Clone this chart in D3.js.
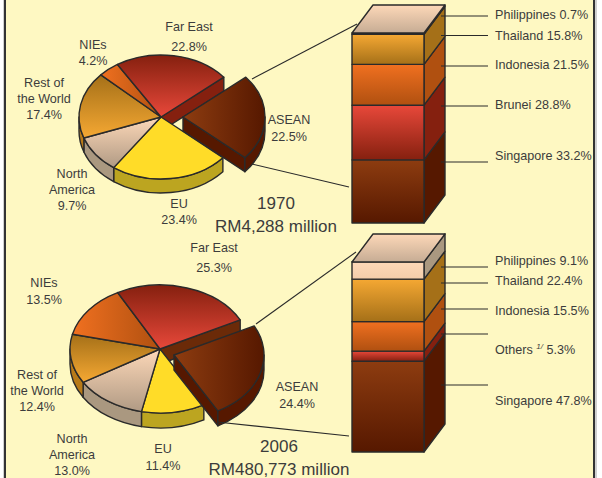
<!DOCTYPE html>
<html>
<head>
<meta charset="utf-8">
<script src="https://cdn.jsdelivr.net/npm/d3@7"></script>
<style>
    html, body {margin: 0; padding: 0; background: #fff;}
    svg {display: block;}
    text {font-family: "Liberation Sans", Arial, sans-serif; fill: #3c3c3c;}
</style>
</head>
<body>
<div id="chart"></div>
<script>
// pie slices, clockwise starting at the pulled out ASEAN slice
const regions1970 = ["ASEAN", "EU", "North America", "Rest of the World", "NIEs", "Far East"];
const shares1970 = [22.5, 23.4, 9.7, 17.4, 4.2, 22.8];
const regions2006 = ["ASEAN", "EU", "North America", "Rest of the World", "NIEs", "Far East"];
const shares2006 = [24.4, 11.4, 13.0, 12.4, 13.5, 25.3];

// ASEAN breakdown, bottom of the stack first
const countries1970 = ["Singapore", "Brunei", "Indonesia", "Thailand", "Philippines"];
const countryShares1970 = [33.2, 28.8, 21.5, 15.8, 0.7];
const countries2006 = ["Singapore", "Others", "Indonesia", "Thailand", "Philippines"];
const countryShares2006 = [47.8, 5.3, 15.5, 22.4, 9.1];

const titles1970 = ["1970", "RM4,288 million"];
const titles2006 = ["2006", "RM480,773 million"];

const width = 602, height = 478;

let svg = d3.select("#chart").append("svg")
    .attr("width", width)
    .attr("height", height);

let defs = svg.append("defs");

/**
 * add a linear gradient, vertical unless horizontal is set
 */
function addGradient(id, from, to, horizontal) {
    let g = defs.append("linearGradient")
        .attr("id", id)
        .attr("x1", 0).attr("y1", 0)
        .attr("x2", horizontal ? 1 : 0)
        .attr("y2", horizontal ? 0 : 1);
    g.append("stop").attr("offset", "0%").attr("stop-color", from);
    g.append("stop").attr("offset", "100%").attr("stop-color", to);
}

addGradient("gAsean", "#8d3c10", "#561800", true);
addGradient("gFarEast", "#85200f", "#e8483a");
addGradient("gNies", "#f07020", "#b05010", true);
addGradient("gRest", "#a57018", "#f5a833");
addGradient("gAmerica", "#fdd8b8", "#b09a84");
addGradient("gCap", "#fdd8b8", "#c6ac94");
addGradient("gPhil", "#fdd8b8", "#f3cdaa");
addGradient("gThai", "#f5a833", "#a57018");
addGradient("gIndo", "#f07020", "#b05010");
addGradient("gBrunei", "#e8483a", "#85200f");
addGradient("gSing", "#8d3c10", "#561800");

// fill of the top and side of each pie slice, same order as the shares
const pieTop = ["url(#gAsean)", "#ffdc28", "url(#gAmerica)", "url(#gRest)", "url(#gNies)", "url(#gFarEast)"];
const pieSide = ["#561800", "#bca520", "#aa9880", "#b87a18", "#b05010", "#85200f"];

// stack colours: front gradient and side, by country
const stackFront = {Singapore: "url(#gSing)", Brunei: "url(#gBrunei)", Others: "url(#gBrunei)", Indonesia: "url(#gIndo)", Thailand: "url(#gThai)", Philippines: "url(#gPhil)"};
const stackSide = {Singapore: "#561800", Brunei: "#85200f", Others: "#85200f", Indonesia: "#b05010", Thailand: "#a57018", Philippines: "#aa9880"};

const ink = "#2a2a2a";

// faint grey edge outside the frame
svg.append("rect")
    .attr("x", 3).attr("y", -4)
    .attr("width", 594).attr("height", height + 8)
    .attr("fill", "#d0d0d0");

// panel background and frame
svg.append("rect")
    .attr("x", 5).attr("y", -4)
    .attr("width", 589).attr("height", height + 8)
    .attr("fill", "#fef8c2")
    .attr("stroke", "#333")
    .attr("stroke-width", 2);

function drawPie(shares, o) {
    let pieData = d3.pie().sort(null)
        .startAngle(o.start)
        .endAngle(o.start + 2 * Math.PI)(shares);
    let g = svg.append("g");
    let k = o.ry / o.rx;
    let pt = (cx, cy, a) => [cx + o.rx * Math.sin(a), cy - o.ry * Math.cos(a)];
    let arc = d3.arc().innerRadius(0).outerRadius(o.rx);

    // outer wall, only the part facing the viewer
    function wall(cx, cy, a0, a1) {
        let lo = Math.PI / 2, hi = 3 * Math.PI / 2;
        let b0 = Math.max(a0, lo), b1 = Math.min(a1, hi);
        if (b1 <= b0) return null;
        let p0 = pt(cx, cy, b0), p1 = pt(cx, cy, b1);
        return "M" + p0 + "A" + o.rx + "," + o.ry + " 0 0 1 " + p1 +
            "L" + [p1[0], p1[1] + o.depth] +
            "A" + o.rx + "," + o.ry + " 0 0 0 " + [p0[0], p0[1] + o.depth] + "Z";
    }

    // flat face under a straight edge of a slice
    function edge(cx, cy, a) {
        let p = pt(cx, cy, a);
        return "M" + [cx, cy] + "L" + p + "L" + [p[0], p[1] + o.depth] + "L" + [cx, cy + o.depth] + "Z";
    }

    let style = sel => sel.attr("stroke", ink).attr("stroke-width", 1.4).attr("stroke-linejoin", "round");

    // inner face left open by the pulled out slice
    let last = pieData[pieData.length - 1];
    g.append("path").attr("d", edge(o.cx, o.cy, last.endAngle - 2 * Math.PI)).attr("fill", o.cutFill).call(style);

    pieData.slice(1).forEach(function (d) {
        let w = wall(o.cx, o.cy, d.startAngle, d.endAngle);
        if (w) g.append("path").attr("d", w).attr("fill", pieSide[d.index]).call(style);
    });
    pieData.slice(1).forEach(function (d) {
        g.append("path")
            .attr("d", arc(d))
            .attr("transform", "translate(" + o.cx + "," + o.cy + ") scale(1," + k + ")")
            .attr("vector-effect", "non-scaling-stroke")
            .attr("fill", pieTop[d.index])
            .call(style);
    });

    // the pulled out slice
    let s = pieData[0], ex = o.cx + o.dx, ey = o.cy + o.dy;
    g.append("path").attr("d", edge(ex, ey, s.endAngle)).attr("fill", pieSide[0]).call(style);
    g.append("path").attr("d", wall(ex, ey, s.startAngle, s.endAngle)).attr("fill", pieSide[0]).call(style);
    g.append("path")
        .attr("d", arc(s))
        .attr("transform", "translate(" + ex + "," + ey + ") scale(1," + k + ")")
        .attr("vector-effect", "non-scaling-stroke")
        .attr("fill", pieTop[0])
        .call(style);
}

function drawStack(countries, values, o) {
    let g = svg.append("g");
    let y = d3.scaleLinear().domain([0, 100]).range([o.bottom, o.top]);
    let cum = d3.cumsum(values);
    let style = sel => sel.attr("stroke", ink).attr("stroke-width", 1.4).attr("stroke-linejoin", "round");

    countries.forEach(function (c, i) {
        let y0 = y(i ? cum[i - 1] : 0), y1 = y(cum[i]);
        g.append("path")
            .attr("d", "M" + [o.x1, y0] + "L" + [o.x1 + o.ox, y0 - o.oy] + "L" + [o.x1 + o.ox, y1 - o.oy] + "L" + [o.x1, y1] + "Z")
            .attr("fill", stackSide[c]).call(style);
        g.append("rect")
            .attr("x", o.x0).attr("y", y1)
            .attr("width", o.x1 - o.x0).attr("height", y0 - y1)
            .attr("fill", stackFront[c]).call(style);
    });
    let t = y(100);
    g.append("path")
        .attr("d", "M" + [o.x0, t] + "L" + [o.x0 + o.ox, t - o.oy] + "L" + [o.x1 + o.ox, t - o.oy] + "L" + [o.x1, t] + "Z")
        .attr("fill", "url(#gCap)").call(style);
}

function line(p) {
    svg.append("line")
        .attr("x1", p[0]).attr("y1", p[1])
        .attr("x2", p[2]).attr("y2", p[3])
        .attr("stroke", ink).attr("stroke-width", 1.1);
}

// lines of text centred around x, one y per line
function label(x, ys, lines, size, anchor) {
    lines.forEach(function (t, i) {
        svg.append("text")
            .attr("x", x).attr("y", ys[i])
            .attr("dy", "0.35em")
            .attr("text-anchor", anchor || "middle")
            .attr("font-size", size || 12.6)
            .text(t);
    });
}

const deg = Math.PI / 180;

drawPie(shares1970, {cx: 161, cy: 117, rx: 82, ry: 62, depth: 14, start: 50 * deg, dx: 22, dy: 0, cutFill: "#85200f"});
drawPie(shares2006, {cx: 160, cy: 349, rx: 90, ry: 64, depth: 15, start: 63 * deg, dx: 14, dy: 6, cutFill: "#6b2a08"});

drawStack(countries1970, countryShares1970, {x0: 352, x1: 424, ox: 21, oy: 28, top: 33, bottom: 223});
drawStack(countries2006, countryShares2006, {x0: 352, x1: 424, ox: 21, oy: 28, top: 262, bottom: 452});

// connectors from the ASEAN slice to the stacks
line([252, 79, 357, 24]);
line([252, 164, 349, 187]);
line([256, 324, 356, 252]);
line([217, 422, 349, 436]);

// 1970 pie labels
label(189, [27, 47], ["Far East", shares1970[5].toFixed(1) + "%"]);
label(93, [45, 61], ["NIEs", shares1970[4].toFixed(1) + "%"]);
label(44, [83, 99, 115], ["Rest of", "the World", shares1970[3].toFixed(1) + "%"]);
label(72, [174, 190, 206], ["North", "America", shares1970[2].toFixed(1) + "%"]);
label(179, [204, 220], ["EU", shares1970[1].toFixed(1) + "%"]);
label(289, [120, 137], ["ASEAN", shares1970[0].toFixed(1) + "%"]);
label(276, [203], [titles1970[0]], 17);
label(276, [226], [titles1970[1]], 17);

// 2006 pie labels
label(214, [248, 268], ["Far East", shares2006[5].toFixed(1) + "%"]);
label(44, [283, 300], ["NIEs", shares2006[4].toFixed(1) + "%"]);
label(37, [375, 391, 407], ["Rest of", "the World", shares2006[3].toFixed(1) + "%"]);
label(72, [439, 455, 471], ["North", "America", shares2006[2].toFixed(1) + "%"]);
label(163, [449, 466], ["EU", shares2006[1].toFixed(1) + "%"]);
label(297, [387, 404], ["ASEAN", shares2006[0].toFixed(1) + "%"]);
label(279, [446], [titles2006[0]], 17);
label(279, [469], [titles2006[1]], 17);

// stack callouts, bottom of the stack first
const leaderY1970 = [162, 106, 66, 35.5, 16];
const textY1970 = [156, 105, 65, 36, 15];
const leaderY2006 = [385, 334, 309, 283, 267];
const textY2006 = [401, 350, 311, 281, 261];

countries1970.forEach(function (c, i) {
    line([441, leaderY1970[i], 488, leaderY1970[i]]);
    label(495, [textY1970[i]], [c + " " + countryShares1970[i].toFixed(1) + "%"], 12.6, "start");
});

countries2006.forEach(function (c, i) {
    line([441, leaderY2006[i], 488, leaderY2006[i]]);
    let t = svg.append("text")
        .attr("x", 495).attr("y", textY2006[i])
        .attr("dy", "0.35em")
        .attr("font-size", 12.6);
    if (c === "Others") {
        t.append("tspan").text(c + " ");
        t.append("tspan").attr("font-size", 8).attr("font-style", "italic").attr("dy", "-0.7em").text("1/");
        t.append("tspan").attr("dy", "0.45em").text(" " + countryShares2006[i].toFixed(1) + "%");
    } else {
        t.text(c + " " + countryShares2006[i].toFixed(1) + "%");
    }
});
</script>
</body>
</html>
